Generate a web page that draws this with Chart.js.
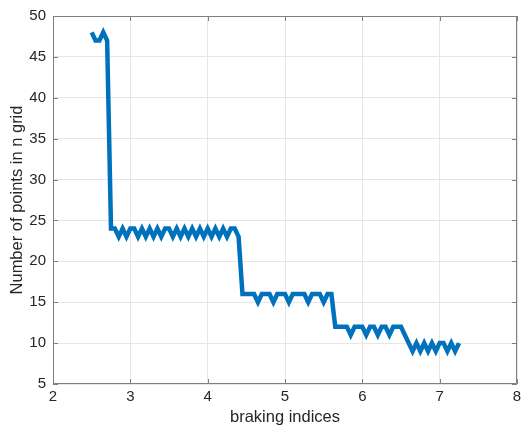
<!DOCTYPE html>
<html>
<head>
<meta charset="utf-8">
<script src="https://cdn.jsdelivr.net/npm/chart.js@4.4.1/dist/chart.umd.min.js"></script>
<style>
  html, body { margin: 0; padding: 0; background: #fff; }
  #wrap { width: 527px; height: 428px; }
</style>
</head>
<body>
<div id="wrap"><canvas id="chart" width="527" height="428"></canvas></div>
<script>
// braking index (x) and number of points in n grid (y)
const brakingIdx = [
  2.5, 2.55, 2.6, 2.65, 2.7, 2.75, 2.8, 2.85, 2.9, 2.95,
  3.0, 3.05, 3.1, 3.15, 3.2, 3.25, 3.3, 3.35, 3.4, 3.45,
  3.5, 3.55, 3.6, 3.65, 3.7, 3.75, 3.8, 3.85, 3.9, 3.95,
  4.0, 4.05, 4.1, 4.15, 4.2, 4.25, 4.3, 4.35, 4.4, 4.45,
  4.5, 4.55, 4.6, 4.65, 4.7, 4.75, 4.8, 4.85, 4.9, 4.95,
  5.0, 5.05, 5.1, 5.15, 5.2, 5.25, 5.3, 5.35, 5.4, 5.45,
  5.5, 5.55, 5.6, 5.65, 5.7, 5.75, 5.8, 5.85, 5.9, 5.95,
  6.0, 6.05, 6.1, 6.15, 6.2, 6.25, 6.3, 6.35, 6.4, 6.45,
  6.5, 6.55, 6.6, 6.65, 6.7, 6.75, 6.8, 6.85, 6.9, 6.95,
  7.0, 7.05, 7.1, 7.15, 7.2, 7.25
];
const gridPoints = [
  48, 47, 47, 48, 47, 24, 24, 23, 24, 23,
  24, 24, 23, 24, 23, 24, 23, 24, 23, 24,
  24, 23, 24, 23, 24, 23, 24, 23, 24, 23,
  24, 23, 24, 23, 24, 23, 24, 24, 23, 16,
  16, 16, 16, 15, 16, 16, 16, 15, 16, 16,
  16, 15, 16, 16, 16, 16, 15, 16, 16, 16,
  15, 16, 16, 12, 12, 12, 12, 11, 12, 12,
  12, 11, 12, 12, 11, 12, 12, 11, 12, 12,
  12, 11, 10, 9, 10, 9, 10, 9, 10, 9,
  10, 10, 9, 10, 9, 10
];
const xTicks = [2, 3, 4, 5, 6, 7, 8];
const yTicks = [5, 10, 15, 20, 25, 30, 35, 40, 45, 50];

const FONT = 'Helvetica, Arial, "Liberation Sans", sans-serif';
const TEXT = '#262626';

// MATLAB-style box with inward ticks on all four sides
const boxPlugin = {
  id: 'box',
  afterDraw(chart) {
    const { ctx, chartArea: a, scales: { x, y } } = chart;
    const len = 5;
    ctx.save();
    ctx.strokeStyle = '#7f7f7f';
    ctx.lineWidth = 1;
    ctx.beginPath();
    ctx.rect(a.left + 0.5, a.top + 0.5, a.right - a.left - 1, a.bottom - a.top - 1);
    xTicks.forEach(v => {
      const px = Math.round(x.getPixelForValue(v)) + 0.5;
      ctx.moveTo(px, a.bottom); ctx.lineTo(px, a.bottom - len);
      ctx.moveTo(px, a.top); ctx.lineTo(px, a.top + len);
    });
    yTicks.forEach(v => {
      const py = Math.round(y.getPixelForValue(v)) + 0.5;
      ctx.moveTo(a.left, py); ctx.lineTo(a.left + len, py);
      ctx.moveTo(a.right, py); ctx.lineTo(a.right - len, py);
    });
    ctx.stroke();
    ctx.restore();
  }
};

new Chart(document.getElementById('chart'), {
  type: 'line',
  data: {
    datasets: [{
      data: brakingIdx.map((b, i) => ({ x: b, y: gridPoints[i] })),
      borderColor: '#0072BD',
      borderWidth: 4.5,
      pointRadius: 0,
      tension: 0,
      fill: false,
      borderJoinStyle: 'miter',
      borderCapStyle: 'butt'
    }]
  },
  options: {
    responsive: false,
    animation: false,
    layout: { padding: { left: 0, top: 13, right: 10, bottom: 0 } },
    plugins: { legend: { display: false }, tooltip: { enabled: false } },
    scales: {
      x: {
        type: 'linear',
        min: 2, max: 8,
        afterBuildTicks: s => { s.ticks = xTicks.map(v => ({ value: v })); },
        afterFit: s => { s.height = 44; },
        grid: { color: '#e6e6e6', drawTicks: false },
        border: { display: false },
        ticks: { color: TEXT, padding: 4, font: { family: FONT, size: 15 } },
        title: {
          display: true, text: 'braking indices', color: TEXT,
          font: { family: FONT, size: 16.5 }, padding: { top: 0, bottom: 1 }
        }
      },
      y: {
        type: 'linear',
        min: 5, max: 50,
        afterBuildTicks: s => { s.ticks = yTicks.map(v => ({ value: v })); },
        afterFit: s => { s.width = 53; },
        grid: { color: '#e6e6e6', drawTicks: false },
        border: { display: false },
        ticks: { color: TEXT, padding: 7, font: { family: FONT, size: 15 } },
        title: {
          display: true, text: 'Number of points in n grid', color: TEXT,
          font: { family: FONT, size: 16.5 }, padding: { top: 8, bottom: 0 }
        }
      }
    }
  },
  plugins: [boxPlugin]
});
</script>
</body>
</html>
